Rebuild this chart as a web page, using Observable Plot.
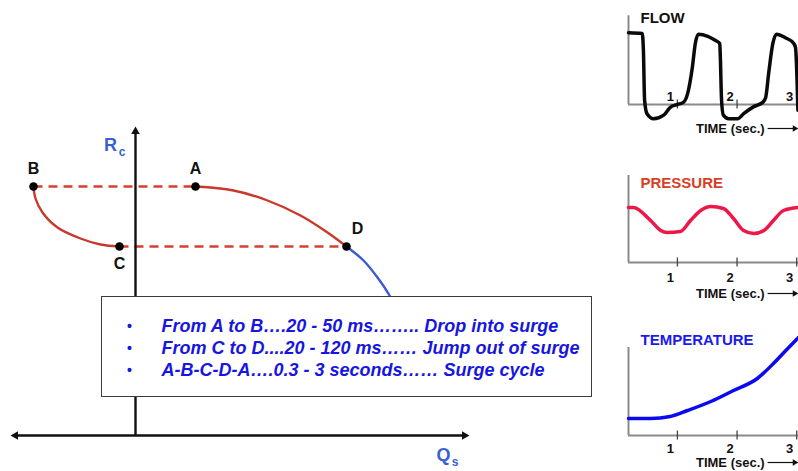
<!DOCTYPE html>
<html>
<head>
<meta charset="utf-8">
<script src="https://cdn.jsdelivr.net/npm/d3@7"></script>
<script src="https://cdn.jsdelivr.net/npm/@observablehq/plot@0.6"></script>
<style>
  body { margin: 0; background: #fff; }
  #chart { position: relative; width: 798px; height: 471px; overflow: hidden;
           font-family: "Liberation Sans", Arial, sans-serif; background: #fff; }
  #chart svg { position: absolute; }
  #notes { position: absolute; left: 101px; top: 296px; width: 491px; height: 101px;
           box-sizing: border-box; border: 1.5px solid #3c3c3c; background: #fff; }
  #notes .row { position: absolute; left: 0; height: 22px; line-height: 22px; white-space: nowrap;
                color: #1616e0; font-weight: bold; font-style: italic; font-size: 18px; }
  #notes .bullet { position: absolute; left: 25px; font-style: normal; font-size: 14px; }
  #notes .txt { position: absolute; left: 59.5px; }
</style>
</head>
<body>
<div id="chart"></div>
<script>
const FONT = "'Liberation Sans', Arial, sans-serif";

// Surge cycle points on the compressor map (Qs = flow, Rc = pressure ratio)
const pointNames = ["A", "B", "C", "D"];
const pointQ = [0.60, -1.02, -0.16, 2.11];
const pointR = [2.49, 2.49, 1.89, 1.89];

// Stable characteristic from A down to D
const curveAD_Q = [0.60, 0.98, 1.32, 1.65, 1.92, 2.11];
const curveAD_R = [2.49, 2.45, 2.35, 2.20, 2.03, 1.89];
// Characteristic continuing past D
const curveDE_Q = [2.11, 2.28, 2.42, 2.54, 2.66];
const curveDE_R = [1.89, 1.75, 1.58, 1.40, 1.15];
// Reverse-flow branch from B to C
const curveBC_Q = [-1.02, -1.00, -0.93, -0.78, -0.55, -0.35, -0.16];
const curveBC_R = [2.49, 2.37, 2.23, 2.08, 1.97, 1.91, 1.89];

// Time traces during surge (seconds)
const timeTicks = [1, 2, 3];
const flowT = [0.18, 0.41, 0.43, 0.45, 0.49, 0.60, 0.77, 0.88, 1.00, 1.10, 1.17, 1.25, 1.30, 1.35, 1.51, 1.64, 1.71, 1.72, 1.74, 1.77, 1.86, 2.01, 2.11, 2.28, 2.43, 2.48, 2.53, 2.60, 2.66, 2.81, 2.95, 2.98, 3.02];
const flowV = [1.01, 1.00, 0.76, 0.06, -0.13, -0.20, -0.15, -0.04, 0.00, 0.03, 0.15, 0.52, 0.86, 0.99, 0.96, 0.90, 0.86, 0.66, 0.06, -0.15, -0.20, -0.20, -0.13, -0.03, 0.03, 0.10, 0.44, 0.86, 0.99, 0.94, 0.86, 0.80, -0.08];
const pressureT = [0.18, 0.26, 0.55, 0.72, 0.83, 1.05, 1.22, 1.39, 1.56, 1.77, 1.94, 2.11, 2.28, 2.45, 2.61, 2.78, 3.03];
const pressureV = [1.10, 1.10, 0.84, 0.64, 0.60, 0.62, 0.84, 1.04, 1.12, 1.08, 0.88, 0.64, 0.58, 0.64, 0.84, 1.04, 1.10];
const tempT = [0.18, 0.55, 0.88, 1.17, 1.56, 1.94, 2.34, 2.61, 2.85, 3.03];
const tempV = [0.34, 0.34, 0.38, 0.50, 0.68, 0.90, 1.14, 1.44, 1.74, 1.96];

// Timing notes
const notes = [
  "From A to B\u2026.20 - 50 ms\u2026\u2026.. Drop into surge",
  "From C to D....20 - 120 ms\u2026\u2026 Jump out of surge",
  "A-B-C-D-A\u2026.0.3 - 3 seconds\u2026\u2026 Surge cycle"
];

const zip = (xs, ys) => xs.map((x, i) => ({x, y: ys[i]}));
const points = pointNames.map((name, i) => ({name, x: pointQ[i], y: pointR[i]}));
const pt = n => points.find(p => p.name === n);
const surgeLinks = [[pt("B"), pt("A")], [pt("C"), pt("D")]];

const labelOffsets = {A: [0, -18], B: [0, -18], C: [0, 17], D: [11, -18]};

const RED = "#c9382a", DASH = "#d8402c", BLUE = "#3b5bd3", LABEL_BLUE = "#3a5fd0";

const main = Plot.plot({
  width: 600, height: 471,
  marginTop: 0, marginRight: 0, marginBottom: 0, marginLeft: 0,
  x: {domain: [-1.35, 4.65], axis: null},
  y: {domain: [-0.36, 4.35], axis: null},
  style: {background: "transparent", fontFamily: FONT, overflow: "visible"},
  marks: [
    Plot.link(surgeLinks, {x1: d => d[0].x, y1: d => d[0].y, x2: d => d[1].x, y2: d => d[1].y,
      stroke: DASH, strokeWidth: 2.4, strokeDasharray: "9,6"}),
    Plot.line(zip(curveAD_Q, curveAD_R), {x: "x", y: "y", stroke: RED, strokeWidth: 2.4, curve: "catmull-rom"}),
    Plot.line(zip(curveBC_Q, curveBC_R), {x: "x", y: "y", stroke: RED, strokeWidth: 2.4, curve: "catmull-rom"}),
    Plot.line(zip(curveDE_Q, curveDE_R), {x: "x", y: "y", stroke: BLUE, strokeWidth: 2.4, curve: "catmull-rom"}),
    // axes
    Plot.link([0], {x1: -1.20, x2: 3.29, y1: 0, y2: 0, stroke: "#111", strokeWidth: 2.4}),
    Plot.link([0], {x1: 0, x2: 0, y1: 0, y2: 3.04, stroke: "#111", strokeWidth: 2.4}),
    Plot.dot([{x: -1.20, y: 0, a: -90}, {x: 3.29, y: 0, a: 90}, {x: 0, y: 3.04, a: 0}],
      {x: "x", y: "y", rotate: "a", symbol: "triangle", r: 3.2, fill: "#111", stroke: "none"}),
    Plot.text(["R"], {x: -0.25, y: 2.90, text: d => d, fill: LABEL_BLUE, fontWeight: "bold", fontSize: 18}),
    Plot.text(["c"], {x: -0.135, y: 2.83, text: d => d, fill: LABEL_BLUE, fontWeight: "bold", fontSize: 12}),
    Plot.text(["Q"], {x: 3.08, y: -0.20, text: d => d, fill: LABEL_BLUE, fontWeight: "bold", fontSize: 18}),
    Plot.text(["s"], {x: 3.195, y: -0.265, text: d => d, fill: LABEL_BLUE, fontWeight: "bold", fontSize: 12}),
    Plot.dot(points, {x: "x", y: "y", r: 4.3, fill: "#000"}),
    ...pointNames.map(n => Plot.text([pt(n)], {x: "x", y: "y", text: "name",
      dx: labelOffsets[n][0], dy: labelOffsets[n][1], fontWeight: "bold", fontSize: 16, fill: "#111"}))
  ]
});
main.style.left = "0px";
main.style.top = "0px";

// Small time-history panels
const T0 = 0.18, T1 = 3.03, PXS = 59.6;
function panel(o) {
  const yd = [(o.base - o.height) / o.k, o.base / o.k];
  const series = zip(o.t, o.v);
  const timeY = -o.timeDrop / o.k;
  const svg = Plot.plot({
    width: 198, height: o.height,
    marginTop: 0, marginRight: 0, marginBottom: 0, marginLeft: 28,
    x: {domain: [T0, T1], axis: null},
    y: {domain: yd, axis: null},
    style: {background: "transparent", fontFamily: FONT, overflow: "visible"},
    marks: [
      Plot.ruleX([T0], {y1: 0, y2: o.axisTop, stroke: "#8a8a8a", strokeWidth: 2}),
      Plot.ruleY([0], {x1: T0, x2: T1, stroke: "#8a8a8a", strokeWidth: 2}),
      Plot.ruleX(timeTicks, {x: d => d, y1: -4.5 / o.k, y2: 4.5 / o.k, stroke: "#444", strokeWidth: 1.3}),
      Plot.text(timeTicks, {x: d => d, y: 0, text: d => String(d), dx: -7, dy: o.tickDy,
        fontWeight: "bold", fontSize: 13, fill: "#111"}),
      Plot.line(series, {x: "x", y: "y", stroke: o.color, strokeWidth: 3.5, curve: "monotone-x"}),
      Plot.text([o.title], {x: T0 + 12 / PXS, y: o.titleY, text: d => d, textAnchor: "start",
        fill: o.titleColor, fontWeight: "bold", fontSize: 15}),
      Plot.text(["TIME (sec.)"], {x: T0 + 136 / PXS, y: timeY, text: d => d, textAnchor: "end",
        fontWeight: "bold", fontSize: 13, fill: "#111"}),
      Plot.link([0], {x1: T0 + 139 / PXS, x2: T0 + 166 / PXS, y1: timeY, y2: timeY, stroke: "#111", strokeWidth: 1.2}),
      Plot.dot([0], {x: T0 + 166 / PXS, y: timeY, symbol: "triangle", rotate: 90, r: 2.4, fill: "#111", stroke: "none"})
    ]
  });
  svg.style.left = "600px";
  svg.style.top = o.top + "px";
  return svg;
}

const flow = panel({top: 0, height: 140, base: 104, k: 71, axisTop: 1.25, t: flowT, v: flowV,
  color: "#0a0a0a", title: "FLOW", titleColor: "#111", titleY: 1.21, tickDy: -8, timeDrop: 24});
const pressure = panel({top: 160, height: 150, base: 102, k: 50, axisTop: 1.74, t: pressureT, v: pressureV,
  color: "#ee1848", title: "PRESSURE", titleColor: "#d9401f", titleY: 1.58, tickDy: 15, timeDrop: 31});
const temperature = panel({top: 310, height: 161, base: 125, k: 50, axisTop: 1.76, t: tempT, v: tempV,
  color: "#0a0aee", title: "TEMPERATURE", titleColor: "#1a1aee", titleY: 1.9, tickDy: 13, timeDrop: 27});

const chart = document.getElementById("chart");
chart.append(main, flow, pressure, temperature);

// Notes box over the map
const box = document.createElement("div");
box.id = "notes";
notes.forEach((line, i) => {
  const row = document.createElement("div");
  row.className = "row";
  row.style.top = (17.5 + i * 22) + "px";
  const b = document.createElement("span");
  b.className = "bullet";
  b.textContent = "\u2022";
  const t = document.createElement("span");
  t.className = "txt";
  t.textContent = line;
  row.append(b, t);
  box.append(row);
});
chart.append(box);
</script>
</body>
</html>
